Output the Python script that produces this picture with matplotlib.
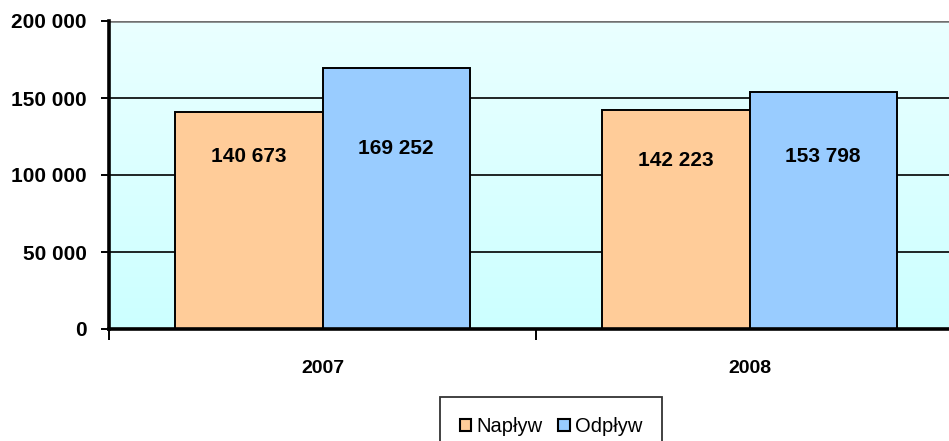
import matplotlib.pyplot as plt
import numpy as np
from matplotlib.patches import Patch

plt.rcParams['font.family'] = ['Liberation Sans', 'DejaVu Sans']

years = ['2007', '2008']
naplyw = [140673, 142223]
odplyw = [169252, 153798]
# where the value labels sit inside the bars
naplyw_lab_y = [111700, 109200]
odplyw_lab_y = [116900, 111700]
yticks = [0, 50000, 100000, 150000, 200000]
ytick_labels = ['0', '50 000', '100 000', '150 000', '200 000']

fig = plt.figure(figsize=(9.49, 4.41), dpi=100)
ax = fig.add_axes([109/949, 112/441, 854/949, 308/441])

x = np.arange(len(years))
w = 0.345

# gradient background
grad = np.linspace(0, 1, 256).reshape(-1, 1)
cmap = plt.matplotlib.colors.LinearSegmentedColormap.from_list('bg', ['#CCFFFF', '#EAFFFF'])
ax.imshow(grad, aspect='auto', cmap=cmap, origin='lower',
          extent=[-0.5, 1.5, 0, 200000], zorder=0)

for yv in yticks[1:-1]:
    ax.axhline(yv, color='black', lw=1.2, zorder=1)
ax.axhline(200000, color='#707070', lw=1.8, zorder=1)

ax.bar(x - w/2, naplyw, w, color='#FFCC99', edgecolor='black', lw=1.4, zorder=2)
ax.bar(x + w/2, odplyw, w, color='#99CCFF', edgecolor='black', lw=1.4, zorder=2)

def fmt(v):
    return f'{v:,}'.replace(',', ' ')

for i in range(len(years)):
    ax.text(x[i] - w/2, naplyw_lab_y[i], fmt(naplyw[i]), ha='center', va='center',
            fontsize=15, fontweight='bold', zorder=3)
    ax.text(x[i] + w/2, odplyw_lab_y[i], fmt(odplyw[i]), ha='center', va='center',
            fontsize=15, fontweight='bold', zorder=3)

ax.set_xlim(-0.5, 1.5)
ax.set_ylim(0, 200000)
ax.set_yticks(yticks)
ax.set_yticklabels(ytick_labels, fontsize=15, fontweight='bold')
ax.set_xticks([-0.5, 0.5, 1.5])
ax.set_xticklabels([])
ax.set_xticks(x, minor=True)
ax.set_xticklabels(years, minor=True, fontsize=14, fontweight='bold')
ax.tick_params(axis='x', which='minor', length=0, pad=22)
ax.tick_params(axis='x', which='major', length=8, width=1.4, direction='out')
ax.tick_params(axis='y', length=6, width=1.4, direction='out', pad=10)

for s in ['top', 'right']:
    ax.spines[s].set_visible(False)
ax.spines['left'].set_linewidth(2.6)
ax.spines['bottom'].set_linewidth(2.6)

handles = [Patch(facecolor='#FFCC99', edgecolor='black', lw=1.5, label='Napływ'),
           Patch(facecolor='#99CCFF', edgecolor='black', lw=1.5, label='Odpływ')]
leg = fig.legend(handles=handles, loc='upper center', bbox_to_anchor=(551/949, 1 - 397/441),
                 ncol=2, fontsize=14.5, frameon=True, fancybox=False, handlelength=0.55,
                 handleheight=0.55, handletextpad=0.25, columnspacing=0.8,
                 borderpad=1.0, borderaxespad=0)
leg._legend_box.sep = 0
leg.get_frame().set_edgecolor('black')
leg.get_frame().set_linewidth(1.3)
leg.borderpad = 1.0

fig.savefig('out.png', dpi=100)
